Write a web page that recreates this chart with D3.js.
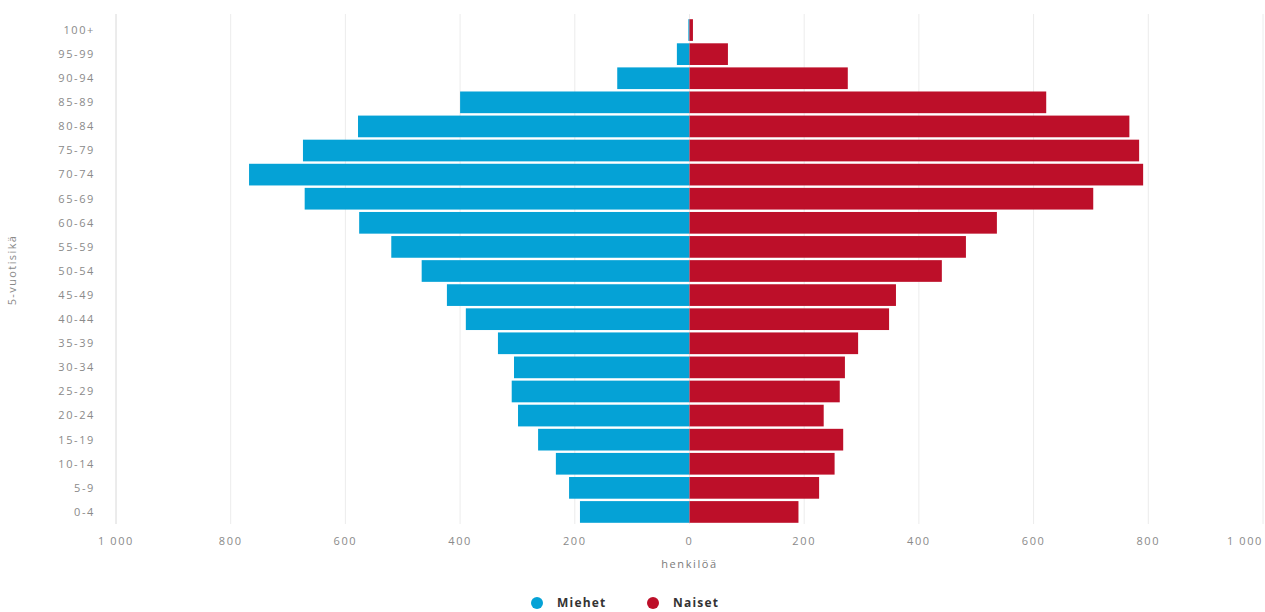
<!DOCTYPE html>
<html>
<head>
<meta charset="utf-8">
<script src="https://cdn.jsdelivr.net/npm/d3@7"></script>
<style>
  html, body { margin: 0; padding: 0; background: #fff; }
  svg { display: block; font-family: "Open Sans", "DejaVu Sans", sans-serif; }
</style>
</head>
<body>
<svg id="chart" width="1265" height="612"></svg>
<script>
const ageGroups = ["100+", "95-99", "90-94", "85-89", "80-84", "75-79", "70-74", "65-69", "60-64", "55-59", "50-54", "45-49", "40-44", "35-39", "30-34", "25-29", "20-24", "15-19", "10-14", "5-9", "0-4"];
const men   = [2, 22, 126, 400, 578, 674, 768, 671, 576, 520, 467, 423, 390, 334, 306, 310, 299, 264, 233, 210, 191];
const women = [6, 67, 276, 622, 767, 784, 791, 704, 536, 482, 440, 360, 348, 294, 271, 262, 234, 268, 253, 226, 190];
const xTicks = [-1000, -800, -600, -400, -200, 0, 200, 400, 600, 800, 1000];
const seriesNames = ["Miehet", "Naiset"];
const xTitle = "henkilöä";
const yTitle = "5-vuotisikä";

const colors = { men: "#05a2d6", women: "#bd0f29" };
const plot = { left: 116, right: 1263, top: 18, bottom: 524 };

const svg = d3.select("#chart");
const x = d3.scaleLinear().domain([-1000, 1000]).range([plot.left, plot.right]);
const y = d3.scaleBand().domain(ageGroups).range([plot.top, plot.bottom]).paddingInner(0.1).paddingOuter(0.05);

const loc = d3.formatLocale({ decimal: ",", thousands: "\u00a0", grouping: [3], currency: ["", ""] });
const fmt = loc.format(",d");

// gridlines
svg.append("g").selectAll("line").data(xTicks).join("line")
  .attr("x1", d => x(d)).attr("x2", d => x(d))
  .attr("y1", plot.top - 4).attr("y2", plot.bottom)
  .attr("stroke", d => d === -1000 ? "#d8d8d8" : "#ececec")
  .attr("stroke-width", 1);

// bars
const rows = ageGroups.map((g, i) => ({ g, m: men[i], w: women[i] }));
svg.append("g").selectAll("rect").data(rows).join("rect")
  .attr("x", d => x(-d.m)).attr("width", d => x(0) - x(-d.m))
  .attr("y", d => y(d.g)).attr("height", y.bandwidth())
  .attr("fill", colors.men);
svg.append("g").selectAll("rect").data(rows).join("rect")
  .attr("x", x(0)).attr("width", d => x(d.w) - x(0))
  .attr("y", d => y(d.g)).attr("height", y.bandwidth())
  .attr("fill", colors.women);

// y labels
svg.append("g").selectAll("text").data(ageGroups).join("text")
  .attr("x", 95).attr("y", d => y(d) + y.bandwidth() / 2)
  .attr("dy", "0.35em").attr("text-anchor", "end")
  .attr("font-size", 11).attr("letter-spacing", 1.6)
  .attr("fill", "#8a8a8a").text(d => d);

// x tick labels
svg.append("g").selectAll("text").data(xTicks).join("text")
  .attr("x", d => d === 1000 ? x(d) : x(d))
  .attr("y", 545)
  .attr("text-anchor", d => d === 1000 ? "end" : "middle")
  .attr("font-size", 11).attr("letter-spacing", 1.6)
  .attr("fill", "#8a8a8a").text(d => fmt(Math.abs(d)));

// x title
svg.append("text").attr("x", x(0)).attr("y", 568).attr("text-anchor", "middle")
  .attr("font-size", 11).attr("letter-spacing", 1.6).attr("fill", "#7a7a7a").text(xTitle);

// y title
svg.append("text").attr("transform", "translate(16,270) rotate(-90)")
  .attr("text-anchor", "middle").attr("font-size", 11).attr("letter-spacing", 1.4)
  .attr("fill", "#8a8a8a").text(yTitle);

// legend
const legend = svg.append("g");
const legendItems = [{ name: seriesNames[0], color: colors.men, cx: 537 }, { name: seriesNames[1], color: colors.women, cx: 653 }];
legend.selectAll("circle").data(legendItems).join("circle")
  .attr("cx", d => d.cx).attr("cy", 603).attr("r", 6).attr("fill", d => d.color);
legend.selectAll("text").data(legendItems).join("text")
  .attr("x", d => d.cx + 20).attr("y", 603).attr("dy", "0.35em")
  .attr("font-size", 12).attr("font-weight", "bold").attr("letter-spacing", 1.2)
  .attr("fill", "#333").text(d => d.name);
</script>
</body>
</html>
